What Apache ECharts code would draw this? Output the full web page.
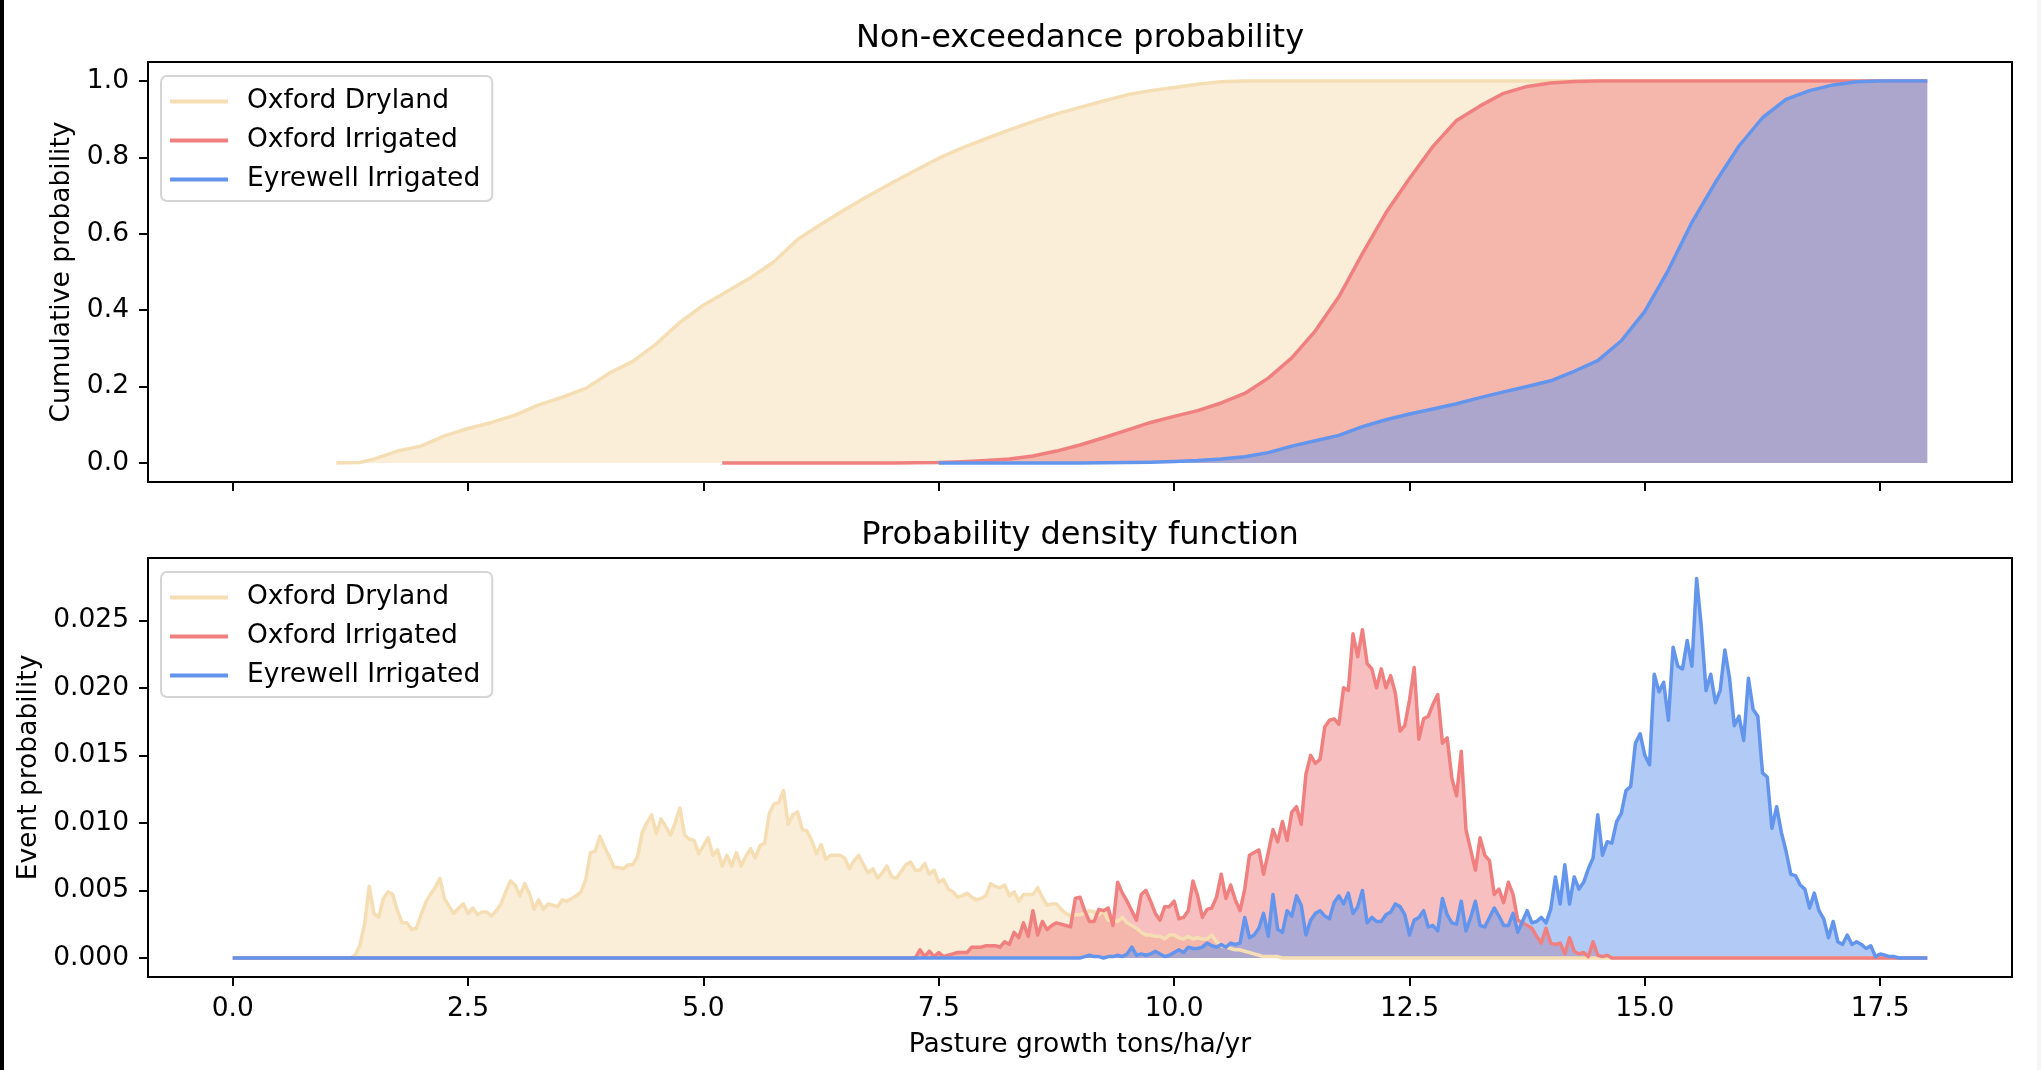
<!DOCTYPE html>
<html>
<head>
<meta charset="utf-8">
<script src="https://cdn.jsdelivr.net/npm/echarts@6/dist/echarts.min.js"></script>
<style>
html,body{margin:0;padding:0;background:#ffffff;}
#chart{width:2041px;height:1070px;}
</style>
</head>
<body>
<div id="chart"></div>
<script>
// ---------------- data ----------------
const seriesNames = ['Oxford Dryland', 'Oxford Irrigated', 'Eyrewell Irrigated'];
const xTicks = [0, 2.5, 5, 7.5, 10, 12.5, 15, 17.5];
const cdfTicks = [0, 0.2, 0.4, 0.6, 0.8, 1.0];
const pdfTicks = [0, 0.005, 0.01, 0.015, 0.02, 0.025];

// Non-exceedance probability (CDF)
const cdfDryX = [1.1, 1.35, 1.5, 1.75, 2.0, 2.25, 2.5, 2.75, 3.0, 3.25, 3.5, 3.75, 4.0, 4.25, 4.5, 4.75, 5.0, 5.25, 5.5, 5.75, 6.0, 6.25, 6.5, 6.75, 7.0, 7.25, 7.5, 7.75, 8.0, 8.25, 8.5, 8.75, 9.0, 9.25, 9.5, 9.75, 10.0, 10.25, 10.5, 10.75, 11.0, 18.0];
const cdfDryY = [0, 0.001, 0.010, 0.031, 0.044, 0.071, 0.090, 0.106, 0.125, 0.152, 0.172, 0.195, 0.235, 0.266, 0.312, 0.368, 0.413, 0.449, 0.485, 0.527, 0.585, 0.625, 0.663, 0.699, 0.733, 0.766, 0.798, 0.825, 0.849, 0.872, 0.894, 0.914, 0.931, 0.948, 0.964, 0.975, 0.983, 0.992, 0.998, 1.0, 1.0, 1.0];
const cdfIrrX = [5.2, 7.0, 7.5, 7.75, 8.0, 8.25, 8.5, 8.75, 9.0, 9.25, 9.5, 9.75, 10.0, 10.25, 10.5, 10.75, 11.0, 11.25, 11.5, 11.75, 12.0, 12.25, 12.5, 12.75, 13.0, 13.25, 13.5, 13.75, 14.0, 14.25, 14.5, 18.0];
const cdfIrrY = [0, 0, 0.001, 0.003, 0.006, 0.010, 0.018, 0.031, 0.047, 0.066, 0.086, 0.106, 0.122, 0.137, 0.157, 0.182, 0.222, 0.275, 0.346, 0.435, 0.548, 0.655, 0.745, 0.829, 0.897, 0.935, 0.968, 0.986, 0.995, 0.999, 1.0, 1.0];
const cdfEyrX = [7.5, 9.0, 9.5, 9.75, 10.0, 10.25, 10.5, 10.75, 11.0, 11.25, 11.5, 11.75, 12.0, 12.25, 12.5, 12.75, 13.0, 13.25, 13.5, 13.75, 14.0, 14.25, 14.5, 14.75, 15.0, 15.25, 15.5, 15.75, 16.0, 16.25, 16.5, 16.75, 17.0, 17.25, 17.5, 18.0];
const cdfEyrY = [0, 0, 0.001, 0.002, 0.004, 0.006, 0.010, 0.016, 0.027, 0.044, 0.058, 0.072, 0.095, 0.113, 0.128, 0.141, 0.155, 0.171, 0.186, 0.200, 0.215, 0.240, 0.268, 0.320, 0.397, 0.505, 0.630, 0.735, 0.830, 0.904, 0.952, 0.975, 0.990, 0.998, 1.0, 1.0];

// Probability density function: bins of width 0.05 t/ha/yr, zero outside the listed range
const pdfBin = 0.05;
const pdfRange = [0, 18];
const pdfDryStart = 1.25;
const pdfDry = [
  0, 0.0002, 0.0009, 0.0025, 0.0053, 0.0033, 0.0030, 0.0044, 0.0049, 0.0047,
  0.0035, 0.0026, 0.0026, 0.0021, 0.0022, 0.0032, 0.0041, 0.0047, 0.0052, 0.0059,
  0.0044, 0.0038, 0.0033, 0.0037, 0.0040, 0.0033, 0.0037, 0.0032, 0.0034, 0.0034,
  0.0031, 0.0035, 0.0040, 0.0049, 0.0057, 0.0054, 0.0046, 0.0055, 0.0048, 0.0036,
  0.0043, 0.0036, 0.0040, 0.0039, 0.0038, 0.0043, 0.0042, 0.0044, 0.0046, 0.0049,
  0.0058, 0.0078, 0.0079, 0.0090, 0.0082, 0.0075, 0.0067, 0.0067, 0.0066, 0.0069,
  0.0069, 0.0075, 0.0093, 0.0100, 0.0106, 0.0092, 0.0103, 0.0097, 0.0091, 0.0100,
  0.0111, 0.0091, 0.0088, 0.0087, 0.0077, 0.0083, 0.0089, 0.0076, 0.0080, 0.0068,
  0.0076, 0.0068, 0.0078, 0.0068, 0.0075, 0.0081, 0.0074, 0.0083, 0.0085, 0.0107,
  0.0114, 0.0115, 0.0124, 0.0099, 0.0106, 0.0108, 0.0095, 0.0094, 0.0087, 0.0077,
  0.0084, 0.0073, 0.0076, 0.0076, 0.0076, 0.0074, 0.0066, 0.0072, 0.0076, 0.0069,
  0.0063, 0.0066, 0.0059, 0.0063, 0.0068, 0.0060, 0.0059, 0.0064, 0.0069, 0.0071,
  0.0065, 0.0065, 0.0070, 0.0062, 0.0065, 0.0056, 0.0058, 0.0051, 0.0049, 0.0045,
  0.0046, 0.0048, 0.0045, 0.0043, 0.0044, 0.0046, 0.0055, 0.0053, 0.0052, 0.0054,
  0.0046, 0.0049, 0.0042, 0.0047, 0.0047, 0.0047, 0.0052, 0.0045, 0.0039, 0.0040,
  0.0040, 0.0036, 0.0033, 0.0031, 0.0032, 0.0032, 0.0033, 0.0035, 0.0034, 0.0032,
  0.0035, 0.0028, 0.0028, 0.0027, 0.0030, 0.0026, 0.0024, 0.0022, 0.0019, 0.0017,
  0.0017, 0.0016, 0.0016, 0.0014, 0.0017, 0.0017, 0.0015, 0.0014, 0.0016, 0.0014,
  0.0015, 0.0014, 0.0014, 0.0017, 0.0012, 0.0009, 0.0008, 0.0007, 0.0006, 0.0006,
  0.0005, 0.0004, 0.0003, 0.0002, 0.0001, 0.0001, 0.0001, 0.0001, 0
];
const pdfIrrStart = 7.2;
const pdfIrr = [
  0, 0, 0.0006, 0.0001, 0.0005, 0.0001, 0.0004, 0.0001, 0.0002, 0.0003,
  0.0004, 0.0004, 0.0004, 0.0008, 0.0008, 0.0008, 0.0009, 0.0009, 0.0009, 0.0008,
  0.0012, 0.0010, 0.0019, 0.0015, 0.0026, 0.0016, 0.0035, 0.0017, 0.0027, 0.0021,
  0.0024, 0.0026, 0.0025, 0.0024, 0.0023, 0.0044, 0.0045, 0.0035, 0.0027, 0.0027,
  0.0036, 0.0035, 0.0037, 0.0024, 0.0056, 0.0048, 0.0042, 0.0035, 0.0028, 0.0047,
  0.0050, 0.0042, 0.0033, 0.0028, 0.0038, 0.0038, 0.0042, 0.0029, 0.0030, 0.0035,
  0.0057, 0.0046, 0.0030, 0.0036, 0.0037, 0.0045, 0.0062, 0.0044, 0.0054, 0.0043,
  0.0035, 0.0051, 0.0076, 0.0078, 0.0080, 0.0062, 0.0078, 0.0095, 0.0086, 0.0101,
  0.0087, 0.0108, 0.0112, 0.0099, 0.0136, 0.0150, 0.0144, 0.0147, 0.0171, 0.0176,
  0.0177, 0.0173, 0.0200, 0.0198, 0.0240, 0.0223, 0.0243, 0.0218, 0.0214, 0.0200,
  0.0214, 0.0200, 0.0209, 0.0196, 0.0168, 0.0172, 0.0191, 0.0215, 0.0162, 0.0177,
  0.0179, 0.0188, 0.0195, 0.0159, 0.0163, 0.0133, 0.0120, 0.0153, 0.0095, 0.0080,
  0.0065, 0.0089, 0.0076, 0.0072, 0.0047, 0.0051, 0.0041, 0.0056, 0.0047, 0.0028,
  0.0026, 0.0024, 0.0022, 0.0016, 0.0011, 0.0022, 0.0011, 0.0010, 0.0011, 0.0003,
  0.0015, 0.0005, 0.0003, 0.0004, 0.0001, 0.0012, 0.0002, 0.0001, 0.0002, 0
];
const pdfEyrStart = 9.0;
const pdfEyr = [
  0, 0.0001, 0.0002, 0.0001, 0.0001, 0, 0.0001, 0.0001, 0.0002, 0.0001,
  0.0003, 0.0008, 0.0002, 0.0003, 0.0002, 0.0003, 0.0005, 0.0003, 0.0001, 0.0002,
  0.0004, 0.0006, 0.0004, 0.0008, 0.0007, 0.0007, 0.0008, 0.0011, 0.0009, 0.0008,
  0.0010, 0.0008, 0.0011, 0.0010, 0.0011, 0.0030, 0.0015, 0.0017, 0.0022, 0.0033,
  0.0016, 0.0047, 0.0021, 0.0019, 0.0035, 0.0031, 0.0046, 0.0039, 0.0017, 0.0028,
  0.0033, 0.0035, 0.0031, 0.0029, 0.0041, 0.0046, 0.0040, 0.0048, 0.0033, 0.0038,
  0.0050, 0.0026, 0.0030, 0.0027, 0.0027, 0.0032, 0.0034, 0.0040, 0.0038, 0.0032,
  0.0017, 0.0028, 0.0030, 0.0035, 0.0023, 0.0024, 0.0020, 0.0044, 0.0032, 0.0026,
  0.0025, 0.0042, 0.0020, 0.0030, 0.0042, 0.0024, 0.0023, 0.0030, 0.0037, 0.0031,
  0.0024, 0.0024, 0.0033, 0.0019, 0.0027, 0.0035, 0.0026, 0.0027, 0.0030, 0.0026,
  0.0036, 0.0060, 0.0040, 0.0069, 0.0040, 0.0060, 0.0051, 0.0056, 0.0066, 0.0074,
  0.0106, 0.0076, 0.0086, 0.0085, 0.0101, 0.0107, 0.0124, 0.0127, 0.0159, 0.0166,
  0.0150, 0.0143, 0.0210, 0.0197, 0.0204, 0.0176, 0.0230, 0.0216, 0.0214, 0.0235,
  0.0216, 0.0281, 0.0245, 0.0198, 0.0210, 0.0189, 0.0198, 0.0228, 0.0207, 0.0172,
  0.0179, 0.0161, 0.0207, 0.0184, 0.0179, 0.0137, 0.0134, 0.0096, 0.0112, 0.0093,
  0.0079, 0.0062, 0.0061, 0.0054, 0.0051, 0.0037, 0.0048, 0.0035, 0.0029, 0.0015,
  0.0027, 0.0012, 0.0010, 0.0017, 0.0010, 0.0012, 0.0010, 0.0007, 0.0009, 0.0001,
  0.0003, 0.0002, 0.0001, 0.0001, 0
];

// ---------------- build ----------------
const colors = ['#F5DEB3', '#F08080', '#6495ED'];
const FONT = 'DejaVu Sans';
const FS = 26.5;

function pairs(xs, ys) { return xs.map((x, i) => [x, ys[i]]); }
function pdfPairs(start, vals) {
  const out = [[pdfRange[0], 0]];
  vals.forEach((v, i) => out.push([+(start + i * pdfBin).toFixed(2), v]));
  out.push([pdfRange[1], 0]);
  return out;
}

const cdfData = [pairs(cdfDryX, cdfDryY), pairs(cdfIrrX, cdfIrrY), pairs(cdfEyrX, cdfEyrY)];
const pdfData = [pdfPairs(pdfDryStart, pdfDry), pdfPairs(pdfIrrStart, pdfIrr), pdfPairs(pdfEyrStart, pdfEyr)];

function mkSeries(data, idx, axisIdx) {
  return {
    type: 'line', name: seriesNames[idx], data: data,
    xAxisIndex: axisIdx, yAxisIndex: axisIdx,
    color: colors[idx], symbol: 'none', showSymbol: false, smooth: false,
    lineStyle: { color: colors[idx], width: 3.5, join: 'round' },
    areaStyle: { color: colors[idx], opacity: 0.5 },
    emphasis: { disabled: true }, silent: true, z: 2
  };
}

const gridL = 148, gridW = 1864;
const grids = [
  { left: gridL, top: 62, width: gridW, height: 420 },
  { left: gridL, top: 558, width: gridW, height: 419 }
];

function xAxisCfg(gi, showLabels) {
  return {
    type: 'value', gridIndex: gi, min: -0.9, max: 18.9,
    axisLine: { show: false, onZero: false },
    splitLine: { show: false },
    axisTick: { show: true, length: 9, lineStyle: { color: '#000', width: 2 }, customValues: xTicks },
    axisLabel: { show: showLabels, customValues: xTicks, formatter: v => v.toFixed(1),
      fontSize: FS, color: '#000', fontFamily: FONT, margin: 19 },
    name: showLabels ? 'Pasture growth tons/ha/yr' : '',
    nameLocation: 'middle', nameGap: 55,
    nameTextStyle: { fontSize: FS, color: '#000', fontFamily: FONT }
  };
}
function yAxisCfg(gi, min, max, ticks, dec, name, gap) {
  return {
    type: 'value', gridIndex: gi, min: min, max: max,
    axisLine: { show: false, onZero: false },
    splitLine: { show: false },
    axisTick: { show: true, length: 9, lineStyle: { color: '#000', width: 2 }, customValues: ticks },
    axisLabel: { customValues: ticks, formatter: v => v.toFixed(dec),
      fontSize: FS, color: '#000', fontFamily: FONT, margin: 19 },
    name: name, nameLocation: 'middle', nameGap: gap,
    nameTextStyle: { fontSize: FS, color: '#000', fontFamily: FONT }
  };
}

function legendCfg(top) {
  return {
    data: seriesNames, orient: 'vertical', left: 161, top: top,
    icon: 'rect', itemWidth: 58, itemHeight: 4, itemGap: 10,
    itemStyle: { borderWidth: 0 },
    textStyle: { fontSize: FS, color: '#000', fontFamily: FONT, lineHeight: 29, padding: [0, 0, 0, 14] },
    backgroundColor: 'rgba(255,255,255,0.8)', borderColor: '#d5d5d5', borderWidth: 2, borderRadius: 6,
    padding: [11, 12, 7, 9], selectedMode: false
  };
}

const frameStyle = { fill: 'none', stroke: '#000', lineWidth: 2 };

const option = {
  animation: false,
  backgroundColor: '#ffffff',
  textStyle: { fontFamily: FONT },
  grid: grids,
  xAxis: [xAxisCfg(0, false), xAxisCfg(1, true)],
  yAxis: [
    yAxisCfg(0, -0.05, 1.05, cdfTicks, 1, 'Cumulative probability', 72),
    yAxisCfg(1, -0.00141, 0.02961, pdfTicks, 3, 'Event probability', 105)
  ],
  legend: [legendCfg(76), legendCfg(572)],
  series: [
    mkSeries(cdfData[0], 0, 0), mkSeries(cdfData[1], 1, 0), mkSeries(cdfData[2], 2, 0),
    mkSeries(pdfData[0], 0, 1), mkSeries(pdfData[1], 1, 1), mkSeries(pdfData[2], 2, 1)
  ],
  graphic: [
    { type: 'rect', shape: { x: 0, y: 0, width: 4, height: 1070 }, style: { fill: '#000' }, silent: true },
    { type: 'rect', shape: { x: 2037, y: 0, width: 4, height: 1070 }, style: { fill: '#f6f6f6' }, silent: true },
    { type: 'rect', shape: { x: grids[0].left, y: grids[0].top, width: grids[0].width, height: grids[0].height }, style: frameStyle, z: 50, silent: true },
    { type: 'rect', shape: { x: grids[1].left, y: grids[1].top, width: grids[1].width, height: grids[1].height }, style: frameStyle, z: 50, silent: true },
    { type: 'text', x: gridL + gridW / 2, y: 39, style: { text: 'Non-exceedance probability', fontSize: 32, fontFamily: FONT, fill: '#000', textAlign: 'center', textVerticalAlign: 'middle' }, silent: true },
    { type: 'text', x: gridL + gridW / 2, y: 536, style: { text: 'Probability density function', fontSize: 32, fontFamily: FONT, fill: '#000', textAlign: 'center', textVerticalAlign: 'middle' }, silent: true }
  ]
};

const chart = echarts.init(document.getElementById('chart'), null, { renderer: 'canvas' });
chart.setOption(option);
</script>
</body>
</html>
